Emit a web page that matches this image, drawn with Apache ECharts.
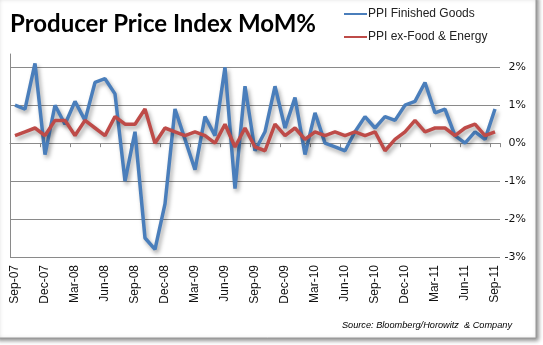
<!DOCTYPE html>
<html>
<head>
<meta charset="utf-8">
<script src="https://cdn.jsdelivr.net/npm/echarts@6/dist/echarts.min.js"></script>
<style>
html,body{margin:0;padding:0;background:#fff;}
#c{width:543px;height:345px;}
</style>
</head>
<body>
<div id="c"></div>
<script>
var categories = ['Sep-07','Oct-07','Nov-07','Dec-07','Jan-08','Feb-08','Mar-08','Apr-08','May-08','Jun-08','Jul-08','Aug-08',
  'Sep-08','Oct-08','Nov-08','Dec-08','Jan-09','Feb-09','Mar-09','Apr-09','May-09','Jun-09','Jul-09','Aug-09',
  'Sep-09','Oct-09','Nov-09','Dec-09','Jan-10','Feb-10','Mar-10','Apr-10','May-10','Jun-10','Jul-10','Aug-10',
  'Sep-10','Oct-10','Nov-10','Dec-10','Jan-11','Feb-11','Mar-11','Apr-11','May-11','Jun-11','Jul-11','Aug-11','Sep-11'];
var ppiFinished = [1.0, 0.9, 2.1, -0.3, 1.0, 0.5, 1.1, 0.6, 1.6, 1.7, 1.3, -1.0,
  0.3, -2.5, -2.8, -1.6, 0.9, 0.1, -0.7, 0.7, 0.2, 2.0, -1.2, 1.5,
  -0.2, 0.3, 1.5, 0.4, 1.2, -0.3, 0.8, 0.0, -0.1, -0.2, 0.3, 0.7,
  0.4, 0.7, 0.6, 1.0, 1.1, 1.6, 0.8, 0.9, 0.2, 0.0, 0.3, 0.1, 0.9];
var ppiCore = [0.2, 0.3, 0.4, 0.2, 0.6, 0.6, 0.2, 0.6, 0.4, 0.2, 0.7, 0.5,
  0.5, 0.9, 0.0, 0.4, 0.3, 0.2, 0.3, 0.2, 0.0, 0.5, -0.1, 0.4,
  -0.1, -0.2, 0.5, 0.2, 0.4, 0.1, 0.3, 0.2, 0.3, 0.2, 0.3, 0.2,
  0.3, -0.2, 0.1, 0.3, 0.6, 0.3, 0.4, 0.4, 0.2, 0.4, 0.5, 0.2, 0.3];
var yMin = -3, yMax = 2.35, yStep = 1;

var chart = echarts.init(document.getElementById('c'), null, {renderer:'canvas'});
var gridColor = '#8a8a8a';
var shadow = {shadowColor:'rgba(0,0,0,0.35)', shadowBlur:4, shadowOffsetX:2, shadowOffsetY:3};
chart.setOption({
  animation:false,
  backgroundColor:'#fff',
  graphic:[{
    type:'rect', z:-10, silent:true,
    shape:{x:-4, y:-4, width:540, height:342},
    style:{fill:'#fff', stroke:'#9a9a9a', lineWidth:1, shadowColor:'rgba(0,0,0,0.45)', shadowBlur:4, shadowOffsetX:2, shadowOffsetY:2}
  }],
  title:[{
    text:'Producer Price Index MoM%', left:5, top:7,
    textStyle:{fontFamily:'Lato', fontWeight:'bold', fontSize:24, color:'#000'}
  },{
    text:'Source: Bloomberg/Horowitz  & Company', right:26, top:316,
    textStyle:{fontFamily:'Liberation Sans', fontStyle:'italic', fontWeight:'normal', fontSize:9.2, color:'#000'}
  }],
  legend:{
    orient:'vertical', left:339, top:3, itemWidth:23, itemHeight:2, itemGap:11, icon:'rect',
    textStyle:{fontFamily:'Liberation Sans', fontSize:12, color:'#222', padding:[0,0,0,-4]},
    data:['PPI Finished Goods','PPI ex-Food & Energy']
  },
  grid:{left:10, right:43, top:54, bottom:88, containLabel:false},
  xAxis:[{
    type:'category', data:categories, boundaryGap:true,
    axisLine:{show:true, onZero:true, lineStyle:{color:gridColor, width:1}},
    axisTick:{show:true, interval:2, length:4, lineStyle:{color:gridColor}},
    axisLabel:{show:false}, splitLine:{show:false}
  },{
    type:'category', data:categories, boundaryGap:true, position:'bottom',
    axisLine:{show:false, onZero:false}, axisTick:{show:false},
    axisLabel:{show:true, interval:2, rotate:90, margin:8, fontFamily:'Liberation Sans', fontSize:12, color:'#111'},
    splitLine:{show:false}
  }],
  yAxis:[{
    type:'value', position:'right', min:yMin, max:yMax, interval:yStep,
    axisLine:{show:false}, axisTick:{show:false},
    axisLabel:{show:true, showMaxLabel:false, align:'right', margin:26, fontFamily:'DejaVu Sans', fontSize:11, color:'#111',
      formatter:function(v){ return Math.abs(v - Math.round(v)) < 1e-6 ? Math.round(v) + '%' : ''; }},
    splitLine:{show:true, lineStyle:{color:[gridColor,gridColor,gridColor,gridColor,gridColor,gridColor,'rgba(0,0,0,0)'], width:1}}
  },{
    type:'value', position:'left', min:yMin, max:yMax, interval:yStep,
    axisLine:{show:true, lineStyle:{color:gridColor, width:1}}, axisTick:{show:false},
    axisLabel:{show:false}, splitLine:{show:false}
  }],
  series:[{
    name:'PPI Finished Goods', type:'line', data:ppiFinished, xAxisIndex:0, yAxisIndex:0,
    symbol:'none', smooth:false, z:3,
    lineStyle:Object.assign({color:'#4A7EBB', width:3.5}, shadow),
    itemStyle:{color:'#4A7EBB'}
  },{
    name:'PPI ex-Food & Energy', type:'line', data:ppiCore, xAxisIndex:0, yAxisIndex:0,
    symbol:'none', smooth:false, z:4,
    lineStyle:Object.assign({color:'#BE4B48', width:3.5}, shadow),
    itemStyle:{color:'#BE4B48'}
  }]
});
</script>
</body>
</html>
